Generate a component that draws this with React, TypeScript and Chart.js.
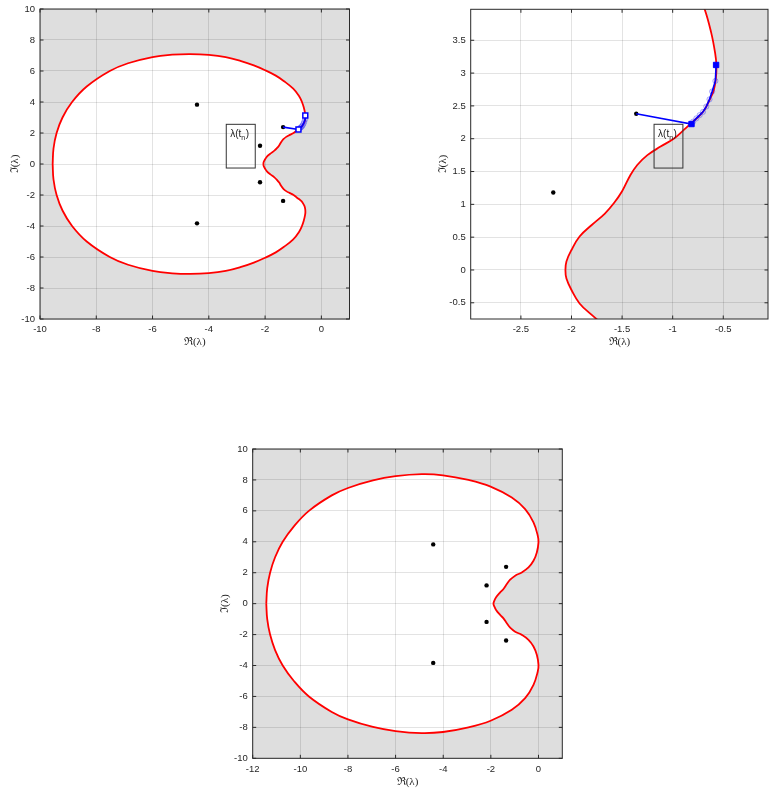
import React, { useEffect, useRef } from 'react';
import { Chart, registerables } from 'chart.js';

Chart.register(...registerables);

// Stability boundary |R(z)| = 1, first case (top plots) — closed curve
const boundaryARe = [
  -9.55, -9.52, -9.41, -9.20, -8.86, -8.34, -7.52, -6.87, -6.00, -5.30, -4.66, -4.00, -3.40, -2.88, -2.40, -2.00,
  -1.62, -1.34, -1.00, -0.80, -0.69, -0.62, -0.58, -0.568, -0.572, -0.594, -0.636, -0.70, -0.80, -0.90, -0.99, -1.12,
  -1.25, -1.35, -1.42, -1.50, -1.58, -1.67, -1.80, -1.92, -2.00, -2.05, -2.06,
  -2.05, -2.00, -1.92, -1.80, -1.67, -1.58, -1.50, -1.42, -1.35, -1.25, -1.12, -0.99, -0.90, -0.80, -0.70, -0.636,
  -0.594, -0.572, -0.568, -0.58, -0.62, -0.69, -0.80, -1.00, -1.34, -1.62, -2.00, -2.40, -2.88, -3.40, -4.00, -4.66,
  -5.30, -6.00, -6.87, -7.52, -8.34, -8.86, -9.20, -9.41, -9.52, -9.55,
];
const boundaryAIm = [
  0, 1.0, 2.0, 3.0, 4.0, 5.0, 6.0, 6.5, 6.90, 7.05, 7.09, 7.04, 6.90, 6.66, 6.36, 6.05,
  5.70, 5.36, 4.86, 4.40, 4.00, 3.62, 3.30, 3.12, 2.94, 2.74, 2.59, 2.41, 2.26, 2.12, 2.00, 1.88,
  1.75, 1.60, 1.44, 1.20, 1.02, 0.86, 0.685, 0.51, 0.305, 0.13, 0,
  -0.13, -0.305, -0.51, -0.685, -0.86, -1.02, -1.20, -1.44, -1.60, -1.75, -1.88, -2.00, -2.12, -2.26, -2.41, -2.59,
  -2.74, -2.94, -3.12, -3.30, -3.62, -4.00, -4.40, -4.86, -5.36, -5.70, -6.05, -6.36, -6.66, -6.90, -7.04, -7.09,
  -7.05, -6.90, -6.5, -6.0, -5.0, -4.0, -3.0, -2.0, -1.0, 0,
];

// Stability boundary, second case (bottom plot) — closed curve
const boundaryBRe = [
  -11.43, -11.39, -11.27, -11.06, -10.74, -10.27, -9.64, -8.68, -8.00, -6.95, -6.00, -4.90, -4.01, -2.94, -2.01, -1.12,
  -0.56, -0.21, -0.03, 0.00, -0.07, -0.21, -0.42, -0.70, -0.98, -1.19, -1.33, -1.47, -1.61, -1.78, -1.87, -1.89,
  -1.87, -1.78, -1.61, -1.47, -1.33, -1.19, -0.98, -0.70, -0.42, -0.21, -0.07, 0.00, -0.03, -0.21, -0.56, -1.12,
  -2.01, -2.94, -4.01, -4.90, -6.00, -6.95, -8.00, -8.68, -9.64, -10.27, -10.74, -11.06, -11.27, -11.39, -11.43,
];
const boundaryBIm = [
  0, 1.0, 2.0, 3.0, 4.0, 5.0, 6.0, 7.0, 7.48, 7.97, 8.24, 8.37, 8.30, 8.00, 7.57, 6.86,
  6.11, 5.25, 4.39, 3.96, 3.31, 2.77, 2.34, 2.02, 1.81, 1.55, 1.27, 0.95, 0.73, 0.41, 0.13, 0,
  -0.13, -0.41, -0.73, -0.95, -1.27, -1.55, -1.81, -2.02, -2.34, -2.77, -3.31, -3.96, -4.39, -5.25, -6.11, -6.86,
  -7.57, -8.00, -8.30, -8.37, -8.24, -7.97, -7.48, -7.0, -6.0, -5.0, -4.0, -3.0, -2.0, -1.0, 0,
];

// Eigenvalues (black dots)
const eigRe = [-4.42, -4.42, -2.18, -2.18, -1.36, -1.36];
const eigIm = [3.83, -3.83, 1.18, -1.18, 2.38, -2.38];

// Trajectory λ(t_n)
const trajRe = [-1.36, -0.814, -0.798, -0.766, -0.733, -0.70, -0.668, -0.636, -0.61, -0.578, -0.571];
const trajIm = [2.38, 2.224, 2.26, 2.31, 2.36, 2.41, 2.49, 2.60, 2.72, 2.88, 3.124];
const stepRe = [-0.798, -0.766, -0.733, -0.70, -0.668, -0.636, -0.61, -0.578];
const stepIm = [2.26, 2.31, 2.36, 2.41, 2.49, 2.60, 2.72, 2.88];
const endRe = [-0.814, -0.571];
const endIm = [2.224, 3.124];

// Ticks
const xTicks1 = [-10, -8, -6, -4, -2, 0];
const yTicks1 = [-10, -8, -6, -4, -2, 0, 2, 4, 6, 8, 10];
const xTicks2 = [-2.5, -2, -1.5, -1, -0.5];
const yTicks2 = [-0.5, 0, 0.5, 1, 1.5, 2, 2.5, 3, 3.5];
const xTicks3 = [-12, -10, -8, -6, -4, -2, 0];
const yTicks3 = [-10, -8, -6, -4, -2, 0, 2, 4, 6, 8, 10];

// Annotation boxes (data units)
const box1 = [-3.38, -2.35, -0.26, 2.56];
const box2 = [-1.184, -0.899, 1.553, 2.22];

const xTitle = 'ℜ(λ)';
const yTitle = 'ℑ(λ)';
const boxLabel = 'λ(t';
const boxSub = 'n';

const TICK_FONT = '"Liberation Sans", Arial, Helvetica, sans-serif';
const TITLE_FONT = '"Liberation Serif", "DejaVu Serif", serif';
const TEXT_COLOR = '#262626';
const GREY = '#dedede';
const GRID = 'rgba(0,0,0,0.11)';

const pts = (xs: number[], ys: number[]) => xs.map((x, i) => ({ x, y: ys[i] }));

type Spec = {
  left: number; top: number; w: number; h: number;
  pad: { left: number; top: number; right: number; bottom: number };
  yW: number; xH: number;
  xMin: number; xMax: number; yMin: number; yMax: number;
  xTicks: number[]; yTicks: number[];
  curveRe: number[]; curveIm: number[];
  xTitlePad: number; yTitlePad: number;
  traj: boolean; box: number[] | null; filledSquares: boolean;
};

const regionPlugin = {
  id: 'regionFill',
  beforeDraw(chart: any) {
    const { ctx, chartArea: a } = chart;
    ctx.save();
    ctx.fillStyle = GREY;
    ctx.fillRect(a.left, a.top, a.right - a.left, a.bottom - a.top);
    ctx.beginPath();
    ctx.rect(a.left, a.top, a.right - a.left, a.bottom - a.top);
    ctx.clip();
    const meta = chart.getDatasetMeta(0);
    const line = meta && meta.dataset;
    if (line && line.points && line.points.length) {
      line.updateControlPoints(a, 'x');
      ctx.beginPath();
      line.path(ctx);
      ctx.closePath();
      ctx.fillStyle = '#ffffff';
      ctx.fill();
    }
    ctx.restore();
  },
};

const framePlugin = {
  id: 'frame',
  afterDraw(chart: any) {
    const { ctx, chartArea: a, scales } = chart;
    ctx.save();
    ctx.strokeStyle = '#2a2a2a';
    ctx.lineWidth = 1;
    ctx.strokeRect(a.left, a.top, a.right - a.left, a.bottom - a.top);
    const L = 3.5;
    ctx.beginPath();
    for (const t of scales.x.ticks) {
      const p = scales.x.getPixelForValue(t.value);
      ctx.moveTo(p, a.bottom); ctx.lineTo(p, a.bottom - L);
      ctx.moveTo(p, a.top); ctx.lineTo(p, a.top + L);
    }
    for (const t of scales.y.ticks) {
      const p = scales.y.getPixelForValue(t.value);
      ctx.moveTo(a.left, p); ctx.lineTo(a.left + L, p);
      ctx.moveTo(a.right, p); ctx.lineTo(a.right - L, p);
    }
    ctx.stroke();
    ctx.restore();
  },
};

function boxPlugin(box: number[] | null) {
  return {
    id: 'labelBox',
    afterDatasetsDraw(chart: any) {
      if (!box) return;
      const { ctx, scales } = chart;
      const x0 = scales.x.getPixelForValue(box[0]);
      const x1 = scales.x.getPixelForValue(box[1]);
      const y0 = scales.y.getPixelForValue(box[2]);
      const y1 = scales.y.getPixelForValue(box[3]);
      ctx.save();
      ctx.strokeStyle = '#333333';
      ctx.lineWidth = 1;
      ctx.strokeRect(Math.min(x0, x1), Math.min(y0, y1), Math.abs(x1 - x0), Math.abs(y1 - y0));
      ctx.fillStyle = '#222222';
      ctx.textBaseline = 'alphabetic';
      ctx.font = '10px ' + TICK_FONT;
      const tx = Math.min(x0, x1) + 4;
      const ty = Math.min(y0, y1) + 13;
      ctx.fillText(boxLabel, tx, ty);
      const w1 = ctx.measureText(boxLabel).width;
      ctx.font = '7px ' + TICK_FONT;
      ctx.fillText(boxSub, tx + w1, ty + 3);
      const w2 = ctx.measureText(boxSub).width;
      ctx.font = '10px ' + TICK_FONT;
      ctx.fillText(')', tx + w1 + w2 + 0.5, ty);
      ctx.restore();
    },
  };
}

function makeConfig(s: Spec): any {
  const datasets: any[] = [
    {
      data: pts(s.curveRe, s.curveIm),
      borderColor: '#ff0000', borderWidth: 1.8, pointRadius: 0, tension: 0.4,
      capBezierPoints: false, fill: false, order: 6,
    },
    {
      data: pts(eigRe, eigIm),
      showLine: false, pointRadius: 2.2, pointBackgroundColor: '#000000', pointBorderWidth: 0,
      order: 5,
    },
  ];
  if (s.traj) {
    datasets.push(
      {
        data: pts(trajRe, trajIm),
        borderColor: '#0000ff', borderWidth: 1.6, pointRadius: 0, tension: 0, fill: false, order: 3,
      },
      {
        data: pts(stepRe, stepIm),
        showLine: false, pointRadius: 2.6, pointStyle: 'circle',
        pointBackgroundColor: 'rgba(0,0,255,0.08)', pointBorderColor: 'rgba(40,40,255,0.35)', pointBorderWidth: 1,
        order: 4,
      },
      {
        data: pts(endRe, endIm),
        showLine: false, pointStyle: 'rect', pointRadius: s.filledSquares ? 3.8 : 3.5,
        pointBackgroundColor: s.filledSquares ? '#0000ff' : '#ffffff', pointBorderColor: '#0000ff',
        pointBorderWidth: s.filledSquares ? 1 : 1.5,
        order: 2,
      },
    );
  }
  const tickCfg = {
    color: TEXT_COLOR, font: { family: TICK_FONT, size: 9.5 }, padding: 5,
    maxRotation: 0, minRotation: 0, autoSkip: false,
    callback: (v: any) => String(v),
  };
  return {
    type: 'line',
    data: { datasets },
    options: {
      animation: false,
      responsive: false,
      devicePixelRatio: 1,
      events: [],
      layout: { padding: s.pad },
      plugins: { legend: { display: false }, tooltip: { enabled: false } },
      scales: {
        x: {
          type: 'linear', min: s.xMin, max: s.xMax,
          afterBuildTicks: (sc: any) => { sc.ticks = s.xTicks.map((v) => ({ value: v })); },
          afterFit: (sc: any) => { sc.height = s.xH; sc.paddingLeft = 0; sc.paddingRight = 0; sc.paddingTop = 0; sc.paddingBottom = 0; },
          grid: { color: GRID, drawTicks: false, lineWidth: 1 },
          border: { display: false },
          ticks: tickCfg,
          title: {
            display: true, text: xTitle, color: TEXT_COLOR,
            font: { family: TITLE_FONT, size: 11 }, padding: { top: 0, bottom: s.xTitlePad },
          },
        },
        y: {
          type: 'linear', min: s.yMin, max: s.yMax,
          afterBuildTicks: (sc: any) => { sc.ticks = s.yTicks.map((v) => ({ value: v })); },
          afterFit: (sc: any) => { sc.width = s.yW; sc.paddingLeft = 0; sc.paddingRight = 0; sc.paddingTop = 0; sc.paddingBottom = 0; },
          grid: { color: GRID, drawTicks: false, lineWidth: 1 },
          border: { display: false },
          ticks: tickCfg,
          title: {
            display: true, text: yTitle, color: TEXT_COLOR,
            font: { family: TITLE_FONT, size: 11 }, padding: { top: s.yTitlePad, bottom: 0 },
          },
        },
      },
    },
    plugins: [regionPlugin, framePlugin, boxPlugin(s.box)],
  };
}

const specs: Spec[] = [
  {
    left: 0, top: 0, w: 360, h: 356, pad: { left: 0, top: 9, right: 10.5, bottom: 0 }, yW: 40, xH: 37,
    xMin: -10, xMax: 1, yMin: -10, yMax: 10, xTicks: xTicks1, yTicks: yTicks1,
    curveRe: boundaryARe, curveIm: boundaryAIm, xTitlePad: 7.4, yTitlePad: 8.4,
    traj: true, box: box1, filledSquares: false,
  },
  {
    left: 430, top: 0, w: 343, h: 356, pad: { left: 0, top: 9.3, right: 0.3, bottom: 0 }, yW: 40.7, xH: 37,
    xMin: -2.996, xMax: -0.058, yMin: -0.747, yMax: 3.972, xTicks: xTicks2, yTicks: yTicks2,
    curveRe: boundaryARe, curveIm: boundaryAIm, xTitlePad: 7.4, yTitlePad: 6.7,
    traj: true, box: box2, filledSquares: true,
  },
  {
    left: 212, top: 439, w: 360, h: 352, pad: { left: 0, top: 10, right: 9.7, bottom: 0 }, yW: 40.7, xH: 32.7,
    xMin: -12, xMax: 1, yMin: -10, yMax: 10, xTicks: xTicks3, yTicks: yTicks3,
    curveRe: boundaryBRe, curveIm: boundaryBIm, xTitlePad: 2.7, yTitlePad: 6.4,
    traj: false, box: null, filledSquares: false,
  },
];

function Plot({ spec }: { spec: Spec }) {
  const ref = useRef<HTMLCanvasElement | null>(null);
  useEffect(() => {
    if (!ref.current) return;
    const chart = new Chart(ref.current, makeConfig(spec));
    return () => chart.destroy();
  }, [spec]);
  return (
    <div style={{ position: 'absolute', left: spec.left, top: spec.top, width: spec.w, height: spec.h }}>
      <canvas ref={ref} width={spec.w} height={spec.h} style={{ width: spec.w, height: spec.h, display: 'block' }} />
    </div>
  );
}

export default function App() {
  return (
    <div style={{ position: 'absolute', left: 0, top: 0, width: 773, height: 791, overflow: 'hidden', background: '#ffffff' }}>
      {specs.map((s, i) => <Plot key={i} spec={s} />)}
    </div>
  );
}
